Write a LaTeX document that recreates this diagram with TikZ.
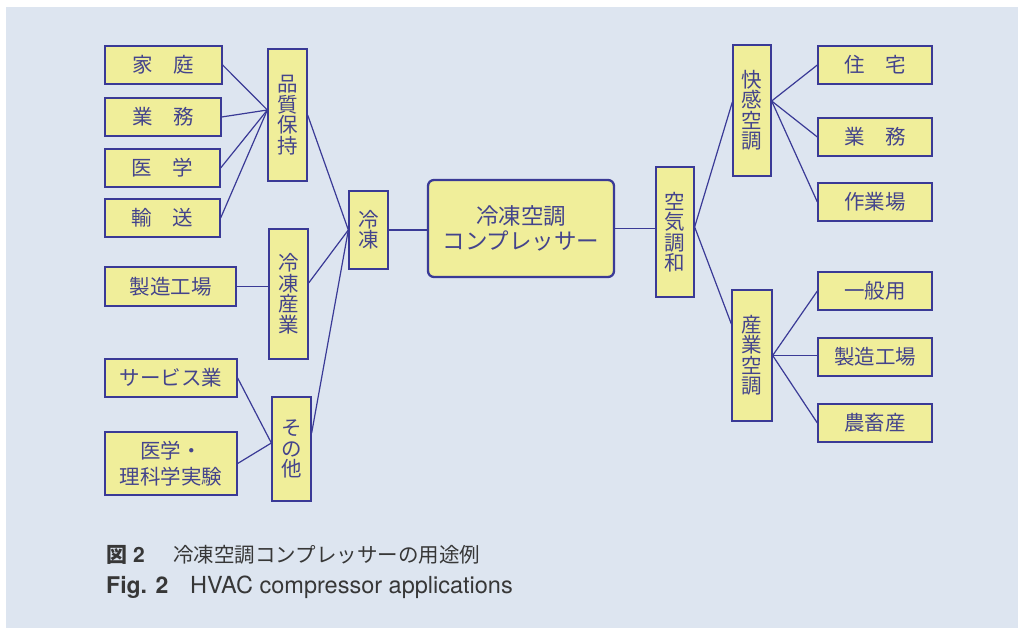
\documentclass[tikz,border=0pt]{standalone}
\usepackage{fontspec}
\newfontfamily\jp{Noto Sans CJK JP}
\setsansfont{TeX Gyre Heros}
\definecolor{bgc}{RGB}{221,229,240}
\definecolor{boxfill}{RGB}{240,238,154}
\definecolor{navy}{RGB}{58,58,150}
\definecolor{txtc}{RGB}{68,68,140}
\definecolor{capc}{RGB}{55,55,55}
\tikzset{
  box/.style={draw=navy, fill=boxfill, line width=1.3pt, inner sep=0pt, text=txtc, align=center,
    font=\jp\fontsize{20.5}{20.5}\selectfont},
  mainbox/.style={box, line width=2.3pt, rounded corners=6pt, font=\jp\fontsize{22.5}{25.5}\selectfont},
  conn/.style={draw=navy, line width=1.2pt},
  captext/.style={anchor=base west, inner sep=0pt, text=capc}
}
\begin{document}
\begin{tikzpicture}[x=1pt,y=-1pt]
\useasboundingbox (0,0) rectangle (1018,628);
\fill[bgc] (6,7) rectangle (1018,628);
% left column
\node[box, minimum width=117, minimum height=38] (katei) at (163.5,65) {家　庭};
\node[box, minimum width=116, minimum height=38] (gyomu) at (163,117) {業　務};
\node[box, minimum width=115, minimum height=38] (igaku) at (162.5,168) {医　学};
\node[box, minimum width=115, minimum height=38] (yuso) at (162.5,218) {輸　送};
\node[box, minimum width=131, minimum height=39] (seizo) at (170.5,286.5) {製造工場};
\node[box, minimum width=132, minimum height=38] (service) at (171,378) {サービス業};
\node[box, minimum width=132, minimum height=63, font=\jp\fontsize{20.5}{26}\selectfont] (rika) at (171,463.5) {医学・\\理科学実験};
% middle column
\node[box, minimum width=39, minimum height=132] (hin) at (287.5,115) {品\\質\\保\\持};
\node[box, minimum width=39, minimum height=130] (sangyo) at (288.5,294) {冷\\凍\\産\\業};
\node[box, minimum width=39, minimum height=104] (sonota) at (291.5,449) {そ\\の\\他};
\node[box, minimum width=39, minimum height=78] (reitou) at (368.5,230) {冷\\凍};
% main
\node[mainbox, minimum width=186, minimum height=97] (main) at (521,228.5) {冷凍空調\\コンプレッサー};
% right side
\node[box, minimum width=38, minimum height=130] (kuuki) at (675,232) {空\\気\\調\\和};
\node[box, minimum width=38, minimum height=131] (kaikan) at (752,110.5) {快\\感\\空\\調};
\node[box, minimum width=40, minimum height=131] (sangyokucho) at (752,355.5) {産\\業\\空\\調};
\node[box, minimum width=114, minimum height=38] (jutaku) at (875,65) {住　宅};
\node[box, minimum width=114, minimum height=38] (gyomub) at (875,137) {業　務};
\node[box, minimum width=114, minimum height=38] (sagyoba) at (875,202) {作業場};
\node[box, minimum width=114, minimum height=38] (ippan) at (875,291) {一般用};
\node[box, minimum width=114, minimum height=38] (seizob) at (875,357) {製造工場};
\node[box, minimum width=114, minimum height=38] (chikusan) at (875,423) {農畜産};
% connectors left
\draw[conn] (katei.east) -- ([yshift=5pt]hin.west);
\draw[conn] (gyomu.east) -- ([yshift=5pt]hin.west);
\draw[conn] (igaku.east) -- ([yshift=5pt]hin.west);
\draw[conn] (yuso.east) -- ([yshift=5pt]hin.west);
\draw[conn] (hin.east) -- (reitou.west);
\draw[conn] (seizo.east) -- (seizo.east -| sangyo.west);
\draw[conn] ([yshift=11pt]sangyo.east) -- (reitou.west);
\draw[conn] (service.east) -- ([yshift=6pt]sonota.west);
\draw[conn] (rika.east) -- ([yshift=6pt]sonota.west);
\draw[conn] ([yshift=16pt]sonota.east) -- (reitou.west);
\draw[conn] (reitou.east) -- (reitou.east -| main.west);
% connectors right
\draw[conn] (main.east) -- (main.east -| kuuki.west);
\draw[conn] ([yshift=5pt]kuuki.east) -- ([yshift=8.5pt]kaikan.west);
\draw[conn] ([yshift=5pt]kuuki.east) -- ([yshift=31.5pt]sangyokucho.west);
\draw[conn] ([yshift=9.5pt]kaikan.east) -- (jutaku.west);
\draw[conn] ([yshift=9.5pt]kaikan.east) -- (gyomub.west);
\draw[conn] ([yshift=9.5pt]kaikan.east) -- (sagyoba.west);
\draw[conn] (sangyokucho.east) -- (ippan.west);
\draw[conn] (sangyokucho.east) -- (sangyokucho.east -| seizob.west);
\draw[conn] (sangyokucho.east) -- (chikusan.west);
% caption
\node[captext, font=\fontsize{21}{24}\selectfont] (c1a) at (106,562) {{\jp\bfseries 図}\hspace{6pt}{\sffamily\bfseries 2}};
\node[captext, font=\jp\fontsize{20.5}{24}\selectfont] (c1b) at (173,562) {冷凍空調コンプレッサーの用途例};
\node[captext, font=\sffamily\bfseries\fontsize{23}{26}\selectfont] (c2a) at (106,593) {Fig. 2};
\node[captext, font=\sffamily\fontsize{23.5}{26}\selectfont] (c2b) at (190,593) {HVAC compressor applications};
\end{tikzpicture}
\end{document}
